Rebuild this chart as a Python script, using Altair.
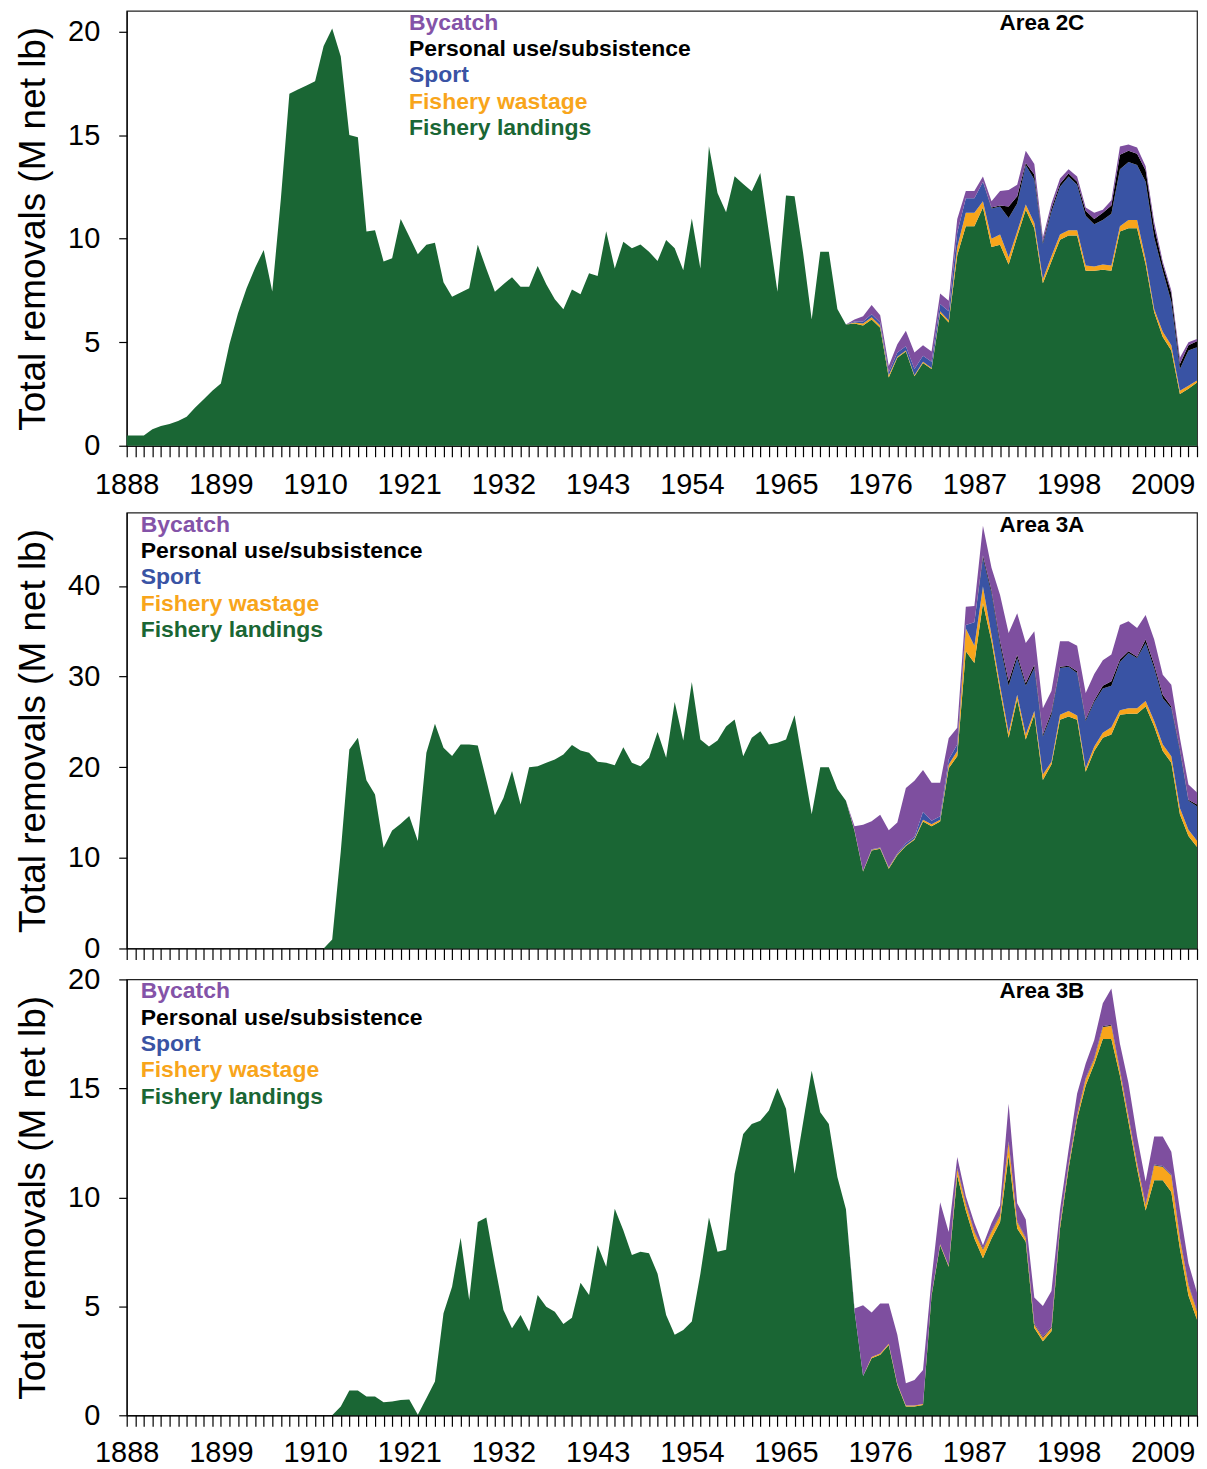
import altair as alt
import pandas as pd

years = list(range(1888, 2014))
series = ["Fishery landings", "Fishery wastage", "Sport",
          "Personal use/subsistence", "Bycatch"]
colors = ["#1a6634", "#f8a51b", "#3953a4", "#000000", "#7e4f9f"]
legend_order = ["Bycatch", "Personal use/subsistence", "Sport",
                "Fishery wastage", "Fishery landings"]
legend_colors = ["#8453a8", "#000000", "#3953a4", "#f8a51b", "#1a6634"]
y_title = "Total removals (M net lb)"
x_label_years = [1888, 1899, 1910, 1921, 1932, 1943, 1954, 1965, 1976, 1987, 1998, 2009]

# ---------------- Area 2C ----------------
L_2C = [
    0.5, 0.5, 0.5, 0.8, 0.95, 1.05, 1.2, 1.4, 1.85, 2.25,
    2.65, 3.0, 4.9, 6.4, 7.6, 8.6, 9.45, 7.45, 11.9, 17.0,
    17.2, 17.4, 17.6, 19.3, 20.15, 18.8, 15.0, 14.9, 10.35, 10.4,
    8.9, 9.05, 10.95, 10.1, 9.25, 9.7, 9.8, 7.9, 7.2, 7.4,
    7.6, 9.7, 8.55, 7.44, 7.8, 8.14, 7.68, 7.68, 8.68, 7.8,
    7.07, 6.59, 7.55, 7.31, 8.33, 8.2, 10.36, 8.56, 9.85, 9.53,
    9.72, 9.37, 8.92, 9.93, 9.53, 8.47, 10.97, 8.56, 14.46, 12.2,
    11.28, 13.01, 12.64, 12.29, 13.17, 10.3, 7.44, 12.08, 12.05, 9.3,
    6.1, 9.37, 9.37, 6.6, 5.86, 5.9, 5.8, 6.1, 5.7, 3.3,
    4.25, 4.55, 3.35, 4.0, 3.7, 6.4, 5.95, 9.2, 10.6, 10.6,
    11.5, 9.6, 9.7, 8.75, 10.1, 11.4, 10.5, 7.85, 8.9, 9.95,
    10.15, 10.15, 8.45, 8.45, 8.5, 8.45, 10.35, 10.5, 10.5, 8.75,
    6.45, 5.25, 4.6, 2.5, 2.75, 3.05,
]
W_2C = [0.0] * 85 + [
    0.05, 0.1, 0.1, 0.1, 0.1, 0.05, 0.05, 0.05, 0.05, 0.05,
    0.1, 0.1, 0.4, 0.65, 0.65, 0.3, 0.4, 0.5, 0.35, 0.25,
    0.25, 0.25, 0.2, 0.25, 0.25, 0.25, 0.25, 0.25, 0.2, 0.25,
    0.25, 0.25, 0.4, 0.4, 0.25, 0.15, 0.25, 0.25, 0.15, 0.15,
    0.1,
]
S_2C = [0.0] * 85 + [
    0.05, 0.1, 0.15, 0.15, 0.15, 0.2, 0.2, 0.3, 0.3, 0.3,
    0.35, 0.45, 0.7, 0.7, 0.7, 0.95, 1.45, 1.35, 1.9, 1.35,
    1.9, 2.1, 1.7, 2.15, 2.3, 2.6, 2.2, 2.4, 2.05, 2.15,
    2.5, 2.75, 2.8, 2.65, 3.75, 3.45, 2.95, 2.1, 1.05, 1.7,
    1.6,
]
P_2C = [0.0] * 85 + [0.0] * 16 + [
    0.05, 0.05, 0.55, 0.35, 0.1, 0.25, 0.1, 0.15, 0.15,
    0.15, 0.15, 0.25, 0.25, 0.35, 0.4, 0.7, 0.55, 0.55, 0.55,
    0.5, 0.3, 0.4, 0.25, 0.25, 0.3,
]
B_2C = [0.0] * 85 + [
    0.1, 0.25, 0.45, 0.35, 0.3, 0.4, 0.75, 0.8, 0.5, 0.5,
    0.5, 0.5, 0.65, 0.35, 0.35, 0.25, 0.3, 0.7, 0.8, 0.55,
    0.6, 0.5, 0.2, 0.25, 0.25, 0.2, 0.25, 0.15, 0.3, 0.15,
    0.25, 0.4, 0.3, 0.3, 0.2, 0.25, 0.15, 0.15, 0.3, 0.15,
    0.1,
]

# ---------------- Area 3A ----------------
L_3A = [0.0] * 23 + [
    0.0, 1.0, 10.7, 21.96, 23.24, 18.55, 17.0, 11.12, 13.03, 13.77,
    14.61, 11.86, 21.6, 24.79, 22.14, 21.23, 22.5, 22.5, 22.4, 18.6,
    14.7, 16.6, 19.57, 15.9, 20.0, 20.1, 20.5, 20.86, 21.4, 22.44,
    21.85, 21.6, 20.6, 20.5, 20.23, 22.21, 20.5, 20.1, 21.04, 23.9,
    21.04, 27.2, 22.95, 29.4, 23.06, 22.3, 22.95, 24.5, 25.26, 21.2,
    23.24, 23.98, 22.5, 22.7, 23.06, 25.74, 20.3, 14.8, 20.0, 20.0,
    17.6, 16.3, 13.0, 8.5, 10.8, 11.0, 8.8, 10.3, 11.3, 12.0,
    14.0, 13.5, 14.0, 19.9, 21.2, 32.8, 31.5, 38.1, 33.9, 28.4,
    23.25, 27.5, 23.05, 25.8, 18.6, 20.3, 25.25, 25.6, 25.25, 19.5,
    21.8, 23.25, 23.6, 25.8, 25.9, 25.9, 26.7, 24.5, 21.8, 20.5,
    14.8, 12.4, 11.2,
]
W_3A = [0.0] * 85 + [
    0.05, 0.05, 0.1, 0.1, 0.1, 0.1, 0.1, 0.1, 0.2, 0.2,
    0.2, 0.4, 0.6, 2.5, 1.9, 1.85, 0.7, 0.6, 0.55, 0.5,
    0.55, 0.4, 0.6, 0.3, 0.55, 0.6, 0.45, 0.4, 0.5, 0.55,
    0.8, 0.5, 0.6, 0.6, 0.6, 0.6, 0.7, 0.7, 0.7, 0.7,
    0.7,
]
S_3A = [0.0] * 85 + [
    0.0, 0.0, 0.05, 0.05, 0.05, 0.1, 0.2, 0.2, 0.9, 0.4,
    0.4, 0.55, 0.7, 0.4, 2.6, 3.1, 4.6, 4.5, 5.2, 4.05,
    5.4, 4.75, 4.2, 5.2, 5.15, 4.9, 4.7, 5.2, 4.9, 4.9,
    4.6, 5.3, 6.1, 5.55, 6.4, 5.85, 5.1, 5.3, 6.3, 3.2,
    3.8,
]
P_3A = [0.0] * 85 + [0.0] * 15 + [
    0.3, 0.3, 0.4, 0.5, 0.35, 0.3, 0.35, 0.2, 0.3,
    0.15, 0.1, 0.2, 0.2, 0.2, 0.3, 0.5, 0.3, 0.2, 0.15,
    0.4, 0.35, 0.4, 0.2, 0.2, 0.1, 0.2,
]
B_3A = [0.0] * 85 + [
    0.45, 5.1, 3.1, 3.6, 4.1, 3.4, 6.1, 6.2, 4.6, 4.2,
    3.7, 2.35, 1.85, 2.0, 1.8, 3.3, 2.5, 5.1, 5.3, 4.6,
    4.4, 3.7, 2.9, 2.3, 2.8, 2.7, 2.8, 2.9, 2.9, 2.8,
    2.95, 3.8, 3.3, 3.15, 2.7, 2.8, 2.2, 2.4, 1.25, 1.7,
    1.3,
]

# ---------------- Area 3B ----------------
L_3B = [0.0] * 24 + [
    0.0, 0.4, 1.14, 1.14, 0.86, 0.86, 0.6, 0.63, 0.7, 0.73,
    0.03, 0.78, 1.55, 4.68, 5.9, 8.15, 5.29, 8.87, 9.07, 6.89,
    4.83, 3.99, 4.6, 3.84, 5.52, 4.98, 4.75, 4.19, 4.48, 6.08,
    5.52, 7.8, 6.81, 9.48, 8.49, 7.35, 7.5, 7.43, 6.5, 4.6,
    3.69, 3.91, 4.3, 6.5, 9.07, 7.5, 7.6, 11.08, 12.91, 13.37,
    13.52, 13.98, 15.02, 14.06, 11.08, 13.45, 15.81, 13.9, 13.37, 10.93,
    9.45, 4.8, 1.8, 2.62, 2.78, 3.23, 1.4, 0.4, 0.4, 0.47,
    5.5, 7.8, 6.81, 11.0, 9.4, 8.11, 7.2, 8.11, 8.87, 11.92,
    8.57, 7.96, 4.01, 3.4, 3.86, 8.57, 11.31, 13.6, 15.13, 16.12,
    17.27, 17.27, 15.58, 13.45, 11.31, 9.4, 10.78, 10.78, 10.24, 7.65,
    5.5, 4.38,
]
W_3B = [0.0] * 85 + [
    0.0, 0.0, 0.05, 0.05, 0.05, 0.05, 0.05, 0.05, 0.05, 0.05,
    0.05, 0.05, 0.3, 0.3, 0.3, 0.4, 0.3, 0.3, 0.6, 0.3,
    0.15, 0.15, 0.15, 0.15, 0.15, 0.15, 0.16, 0.3, 0.23, 0.53,
    0.6, 0.22, 0.23, 0.23, 0.24, 0.68, 0.61, 0.76, 0.46, 0.46,
    0.38,
]
S_3B = [0.0] * 85 + [0.0] * 12 + [0.02] * 29
P_3B = [0.0] * 85 + [0.0] * 12 + [0.03] * 29
B_3B = [0.0] * 85 + [
    0.1, 3.25, 2.05, 2.3, 1.85, 2.24, 1.02, 1.17, 1.56, 0.72,
    1.93, 1.55, 0.5, 0.3, 0.36, 0.15, 0.36, 0.41, 1.73, 0.81,
    0.82, 1.19, 1.41, 1.64, 0.66, 0.67, 0.96, 0.66, 0.82, 1.05,
    1.66, 1.2, 1.5, 1.2, 1.04, 1.28, 1.35, 1.04, 1.27, 0.97,
    0.81,
]

for arr in [L_2C, W_2C, S_2C, P_2C, B_2C, L_3A, W_3A, S_3A, P_3A, B_3A,
            L_3B, W_3B, S_3B, P_3B, B_3B]:
    assert len(arr) == len(years), len(arr)

FONT = "Liberation Sans"
PW = 1073
LABEL_EXPR = ("indexof([" + ",".join(str(v) for v in x_label_years)
              + "], datum.value) >= 0 ? '' + datum.value : ''")


def panel(arrays, ymax, yvals, area_name, legend_x, height, mode):
    rows = []
    for i, yr in enumerate(years):
        for k, (name, arr) in enumerate(zip(series, arrays)):
            rows.append({"year": yr, "series": name, "value": arr[i], "order": k})
    df = pd.DataFrame(rows)

    if mode == "mid":
        x_axis = alt.Axis(values=years, labels=False, tickSize=11,
                          title=None, grid=False)
    else:
        x_axis = alt.Axis(
            values=years, labelExpr=LABEL_EXPR, tickSize=11,
            labelPadding=14 if mode == "top" else 12,
            labelFontSize=29, labelOverlap=False, labelFlush=False,
            title=None, grid=False,
        )
    y_axis = alt.Axis(
        values=yvals,
        tickSize=8,
        labelPadding=19,
        labelFontSize=29,
        title=y_title,
        titleFontSize=37,
        titleFontWeight="normal",
        titleColor="#000000",
        titleAngle=270,
        titleX=-93.5,
        titleY=height / 2,
        titleAlign="center",
        titleBaseline="middle",
        grid=False,
    )
    area = alt.Chart(df).mark_area(interpolate="linear", strokeWidth=0).encode(
        x=alt.X("year:Q", scale=alt.Scale(domain=[1888, 2013], nice=False, zero=False),
                axis=x_axis),
        y=alt.Y("value:Q", stack="zero",
                scale=alt.Scale(domain=[0, ymax], nice=False), axis=y_axis),
        color=alt.Color("series:N", scale=alt.Scale(domain=series, range=colors),
                        legend=None),
        order=alt.Order("order:Q", sort="ascending"),
    )
    layers = [area]
    for i, (lab, col) in enumerate(zip(legend_order, legend_colors)):
        t = alt.Chart(pd.DataFrame({"label": [lab]})).mark_text(
            align="left", baseline="middle", font=FONT, fontSize=23,
            fontWeight="bold", color=col,
        ).encode(x=alt.value(legend_x), y=alt.value(12 + i * 26.4), text="label:N")
        layers.append(t)
    at = alt.Chart(pd.DataFrame({"label": [area_name]})).mark_text(
        align="left", baseline="middle", font=FONT, fontSize=22.5,
        fontWeight="bold", color="#000000",
    ).encode(x=alt.value(875), y=alt.value(12), text="label:N")
    layers.append(at)
    return alt.layer(*layers).properties(width=PW, height=height)


top = panel([L_2C, W_2C, S_2C, P_2C, B_2C], 21.0, [0, 5, 10, 15, 20],
            "Area 2C", 283, 436, "top")
mid = panel([L_3A, W_3A, S_3A, P_3A, B_3A], 48.1, [0, 10, 20, 30, 40],
            "Area 3A", 14, 437, "mid")
bot = panel([L_3B, W_3B, S_3B, P_3B, B_3B], 20.0, [0, 5, 10, 15, 20],
            "Area 3B", 14, 437, "bot")

chart = alt.vconcat(
    alt.vconcat(top, mid, spacing=11),
    bot,
    spacing=0,
).properties(
    padding={"left": 5, "top": 0, "right": 0, "bottom": 0},
    background="white",
).configure_view(
    stroke="#222222", strokeWidth=1.2,
).configure_axis(
    labelFont=FONT, titleFont=FONT, labelColor="#000000",
    tickColor="#000000", domainColor="#000000", tickWidth=1.2, domainWidth=1.2,
)

chart.save("out.html", embed_options={"renderer": "svg", "actions": False})
